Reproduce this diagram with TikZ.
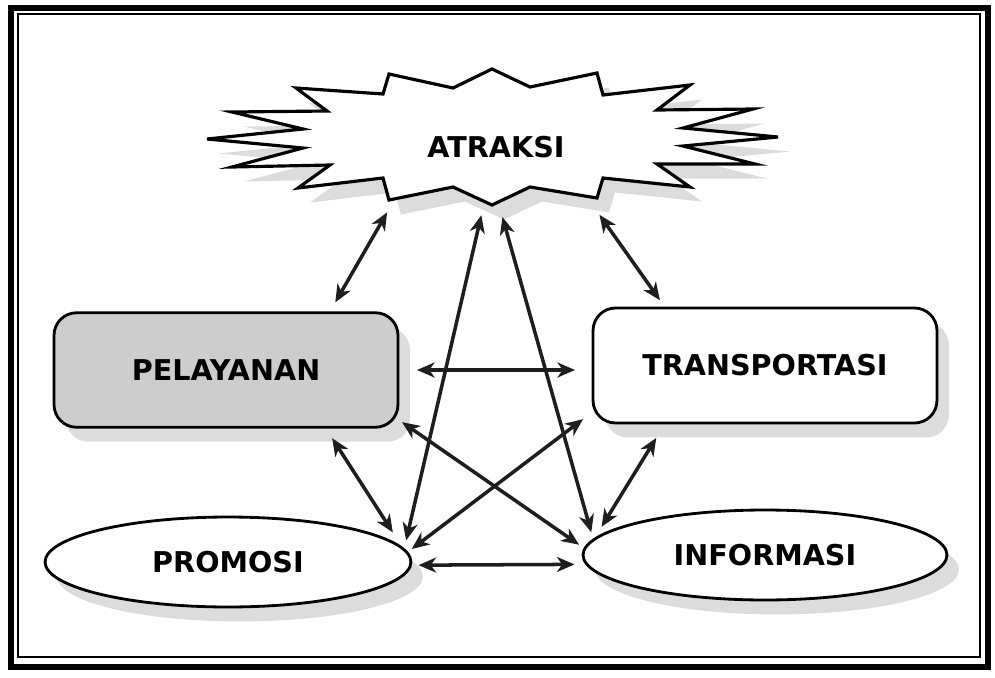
\documentclass[tikz,border=0pt]{standalone}
\usepackage{fontspec}
\setmainfont{DejaVu Sans}
\usepackage{tikz}
\usetikzlibrary{arrows.meta, shadows, shapes.geometric}
\usepackage{xcolor}
\definecolor{lineink}{HTML}{1E1E1E}
\definecolor{shadegray}{HTML}{DCDCDC}
\definecolor{boxgray}{HTML}{CDCDCD}

\begin{document}
\begin{tikzpicture}[x=0.02cm, y=-0.02cm,
    lbl/.style={font=\bfseries\fontsize{16.3}{19}\selectfont, text=black},
    shade/.style={drop shadow={shadow xshift=0.24cm, shadow yshift=-0.29cm, fill=shadegray, opacity=1}},
    box/.style={lbl, draw=black, line width=1.6pt, rounded corners=0.45cm, fill=white, outer sep=0pt,
      minimum width=6.88cm, minimum height=2.29cm, shade},
    oval/.style={lbl, ellipse, draw=black, line width=1.6pt, fill=white, outer sep=0pt,
      minimum width=7.3cm, minimum height=1.8cm, shade},
    link/.style={lineink, line width=2pt, {Stealth[length=10pt,width=8.5pt,inset=3pt]}-{Stealth[length=10pt,width=8.5pt,inset=3pt]}}]
  \useasboundingbox (0,0) rectangle (995,677);
  % frame
  \draw[line width=3.2pt] (11,8) rectangle (988,667);
  \draw[line width=0.7pt] (18,14) rectangle (980,657);
  % starburst
  \draw[line width=1.8pt, fill=white, line join=miter, shade]
    (492,69) -- (530,87) -- (597,73) -- (603,95) -- (690,85) -- (657,110) -- (753,109)
    -- (683,128) -- (778,137) -- (683,146) -- (755,164) -- (657,164) -- (690,187)
    -- (603,178) -- (597,198) -- (530,187) -- (492,205) -- (453,187) -- (389,200)
    -- (383,178) -- (298,188) -- (330,165) -- (232,167) -- (303,148) -- (207,139)
    -- (303,129) -- (232,112) -- (327,111) -- (296,88) -- (383,94) -- (389,74)
    -- (453,88) -- cycle;
  \node[lbl, minimum width=4.28cm, minimum height=2.32cm, inner sep=0pt, outer sep=0pt] (atr) at (496,147) {ATRAKSI};
  % boxes
  \node[box, fill=boxgray] (pel) at (226,370) {PELAYANAN};
  \node[box, minimum height=2.3cm] (tra) at (765,365.5) {TRANSPORTASI};
  \node[oval, minimum width=7.32cm] (pro) at (228,562) {PROMOSI};
  \node[oval, minimum width=7.28cm] (inf) at (765,555) {INFORMASI};
  % links
  \draw[link, shorten <=0.17cm, shorten >=0.24cm] (atr.209.7) -- (pel.29.5);
  \draw[link, shorten <=0.24cm, shorten >=0.19cm] (atr.329.2) -- (tra.150.7);
  \draw[link, shorten <=0.21cm, shorten >=0.19cm] (atr.258.7) -- (pro.4.9);
  \draw[link, shorten <=0.25cm, shorten >=0.16cm] (atr.273.75) -- (inf.175.95);
  \draw[link, shorten <=0.38cm, shorten >=0.36cm] (pel.east) -- (pel.east -| tra.west);
  \draw[link, shorten <=0.16cm, shorten >=0.25cm] (pro.-1.6) -- (inf.183.9);
  \draw[link, shorten <=0.26cm, shorten >=0.41cm] (pel.330.1) -- (pro.4.9);
  \draw[link, shorten <=0.35cm, shorten >=0.31cm] (tra.210.3) -- (inf.175.5);
  \draw[link, shorten <=0.10cm, shorten >=0.14cm] (pel.344) -- (inf.178.8);
  \draw[link, shorten <=0.25cm, shorten >=0.12cm] (tra.195.6) -- (pro.3);
\end{tikzpicture}
\end{document}
